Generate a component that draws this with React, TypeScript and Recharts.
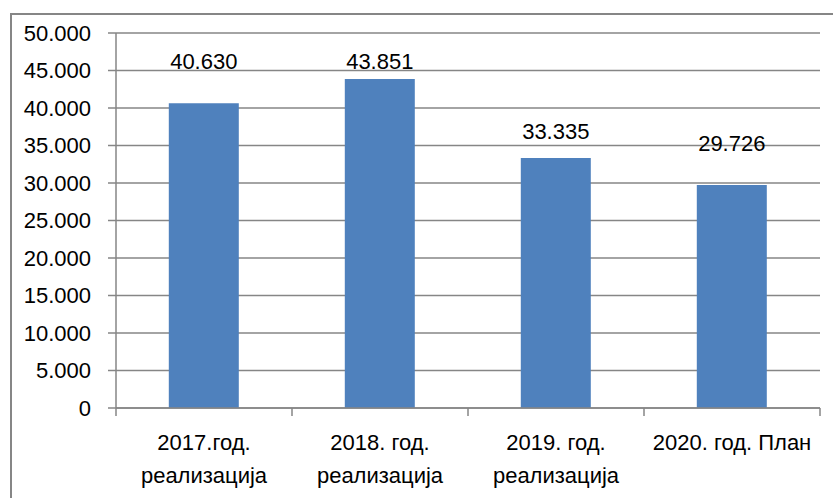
import { BarChart, Bar, XAxis, YAxis, CartesianGrid, LabelList } from "recharts";

const categories = [
  "2017.год.\nреализација",
  "2018. год.\nреализација",
  "2019. год.\nреализација",
  "2020. год. План",
];
const values = [40630, 43851, 33335, 29726];
const yTicks = [0, 5000, 10000, 15000, 20000, 25000, 30000, 35000, 40000, 45000, 50000];

// label lift above each bar top, as placed in the original
const labelLift = [42, 18, 27, 42];

const data = categories.map((name, i) => ({ name, value: values[i] }));

const GRAY = "#868686";
const FONT = "'Liberation Sans', Arial, sans-serif";
const FS = 22;
const W = 833;
const H = 498;
const MARGIN = { top: 33, right: 13, bottom: 0, left: 0 };
const Y_AXIS_W = 116;
const BAND = (W - MARGIN.left - MARGIN.right - Y_AXIS_W) / categories.length;

function fmt(v: number): string {
  if (v === 0) return "0";
  return String(v).replace(/\B(?=(\d{3})+(?!\d))/g, ".");
}

// category label plus Excel-style tick marks between categories
function CategoryTick(props: any) {
  const { x, y, payload, index } = props;
  const lines = String(payload.value).split("\n");
  const last = index === categories.length - 1;
  return (
    <g>
      <line x1={x - BAND / 2} x2={x - BAND / 2} y1={y} y2={y + 8} stroke={GRAY} strokeWidth={1.5} />
      {last && <line x1={x + BAND / 2} x2={x + BAND / 2} y1={y} y2={y + 8} stroke={GRAY} strokeWidth={1.5} />}
      <text x={x} y={y} textAnchor="middle" fontSize={FS} fontFamily={FONT} fill="#000">
        {lines.map((l, i) => (
          <tspan key={i} x={x} dy={i === 0 ? 42 : 33}>
            {l}
          </tspan>
        ))}
      </text>
    </g>
  );
}

function ValueLabel(props: any) {
  const { x, y, width, value, index } = props;
  return (
    <text
      x={x + width / 2}
      y={y - labelLift[index]}
      dy={8}
      textAnchor="middle"
      fontSize={FS}
      fontFamily={FONT}
      fill="#000"
    >
      {fmt(value)}
    </text>
  );
}

export default function App() {
  return (
    <div style={{ position: "absolute", left: 0, top: 0, width: W, height: H, overflow: "hidden", background: "#fff" }}>
      <div
        style={{
          position: "absolute",
          left: 10,
          top: 13,
          width: 840,
          height: 500,
          borderLeft: `2px solid ${GRAY}`,
          borderTop: `2px solid ${GRAY}`,
        }}
      />
      <div style={{ position: "absolute", left: 0, top: 0 }}>
        <BarChart width={W} height={H} data={data} margin={MARGIN} barCategoryGap="30%">
          <CartesianGrid vertical={false} stroke={GRAY} strokeWidth={1.5} />
          <XAxis
            dataKey="name"
            height={90}
            stroke={GRAY}
            strokeWidth={1.5}
            tickLine={false}
            tickSize={0}
            tickMargin={0}
            tick={<CategoryTick />}
            interval={0}
          />
          <YAxis
            domain={[0, 50000]}
            ticks={yTicks}
            width={Y_AXIS_W}
            stroke={GRAY}
            strokeWidth={1.5}
            tickSize={8}
            tickMargin={17}
            tickFormatter={fmt}
            tick={{ fill: "#000", fontSize: FS, fontFamily: FONT }}
            interval={0}
          />
          <Bar dataKey="value" fill="#4F81BD" isAnimationActive={false}>
            <LabelList dataKey="value" content={<ValueLabel />} />
          </Bar>
        </BarChart>
      </div>
    </div>
  );
}
